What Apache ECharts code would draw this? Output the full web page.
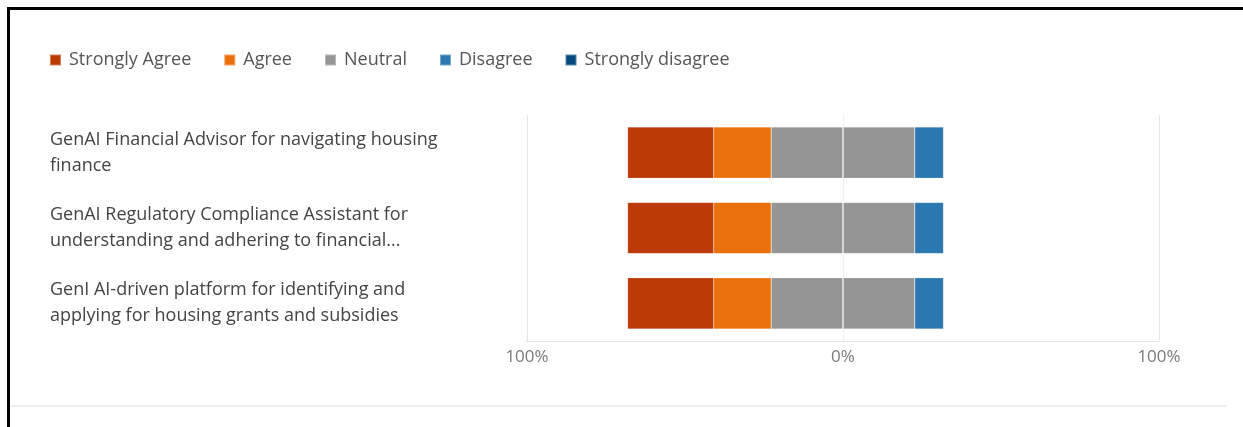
<!DOCTYPE html>
<html>
<head>
<meta charset="utf-8">
<script src="https://cdn.jsdelivr.net/npm/echarts@6/dist/echarts.min.js"></script>
<style>
  html, body { margin: 0; padding: 0; background: #fff; }
  #chart { width: 1243px; height: 427px; }
</style>
</head>
<body>
<div id="chart"></div>
<script>
// ---- data ----
const categories = [
  "GenAI Financial Advisor for navigating housing\nfinance",
  "GenAI Regulatory Compliance Assistant for\nunderstanding and adhering to financial...",
  "GenI AI-driven platform for identifying and\napplying for housing grants and subsidies"
];
const seriesNames = ["Strongly Agree", "Agree", "Neutral", "Disagree", "Strongly disagree"];
const stronglyAgree    = [27.27, 27.27, 27.27];
const agree            = [18.18, 18.18, 18.18];
const neutral          = [45.45, 45.45, 45.45];
const disagree         = [9.09, 9.09, 9.09];
const stronglyDisagree = [0, 0, 0];
const tickValues = [-100, 0, 100];
const tickLabels = ["100%", "0%", "100%"];

const colors = {
  "Strongly Agree": "#bb3a05",
  "Agree": "#ea700b",
  "Neutral": "#959595",
  "Disagree": "#2b78b0",
  "Strongly disagree": "#044a80"
};

const FONT = "Open Sans";
const chart = echarts.init(document.getElementById('chart'), null, { renderer: 'canvas' });

function barSeries(name, data, extra) {
  return Object.assign({
    name: name,
    type: 'bar',
    stack: 'likert',
    barWidth: '68%',
    data: data,
    itemStyle: { color: colors[name], borderColor: 'rgba(255,255,255,0.35)', borderWidth: 0.5 },
    emphasis: { disabled: true }
  }, extra || {});
}

const option = {
  animation: false,
  textStyle: { fontFamily: FONT },
  legend: {
    data: seriesNames,
    left: 44,
    top: 46,
    itemWidth: 11,
    itemHeight: 11,
    itemGap: 32,
    icon: 'rect',
    textStyle: { fontFamily: FONT, fontSize: 18, color: '#555', padding: [0, 0, 0, 3] }
  },
  grid: { left: 527, right: 84, top: 115, bottom: 86, containLabel: false },
  xAxis: {
    type: 'value',
    min: -100,
    max: 100,
    interval: 100,
    axisLine: { show: true, lineStyle: { color: '#e4e4e4', width: 1 } },
    axisTick: { show: false },
    splitLine: { show: true, lineStyle: { color: '#e6e6e6', width: 1 } },
    axisLabel: {
      margin: 8,
      fontFamily: FONT,
      fontSize: 17,
      color: '#7a7a7a',
      formatter: function (v) {
        const i = tickValues.indexOf(v);
        return i >= 0 ? tickLabels[i] : '';
      }
    }
  },
  yAxis: {
    type: 'category',
    inverse: true,
    data: categories,
    axisLine: { show: false },
    axisTick: { show: false },
    axisLabel: {
      align: 'left',
      margin: 477,
      fontFamily: FONT,
      fontSize: 18,
      lineHeight: 26,
      padding: [4, 0, 0, 0],
      color: '#444'
    }
  },
  series: [
    barSeries('Neutral', neutral.map(v => -v / 2)),
    barSeries('Agree', agree.map(v => -v)),
    barSeries('Strongly Agree', stronglyAgree.map(v => -v)),
    barSeries('Neutral', neutral.map(v => v / 2), {
      markLine: {
        silent: true,
        symbol: 'none',
        label: { show: false },
        lineStyle: { color: 'rgba(255,255,255,0.4)', width: 2, type: 'solid' },
        data: [{ xAxis: 0 }]
      }
    }),
    barSeries('Disagree', disagree),
    barSeries('Strongly disagree', stronglyDisagree)
  ],
  graphic: [
    { type: 'rect', shape: { x: 7, y: 7, width: 1236, height: 3 }, style: { fill: '#000' }, silent: true },
    { type: 'rect', shape: { x: 7, y: 7, width: 3, height: 420 }, style: { fill: '#000' }, silent: true },
    { type: 'rect', shape: { x: 11, y: 405, width: 1215, height: 2 }, style: { fill: '#ececec' }, silent: true }
  ]
};
chart.setOption(option);
</script>
</body>
</html>
